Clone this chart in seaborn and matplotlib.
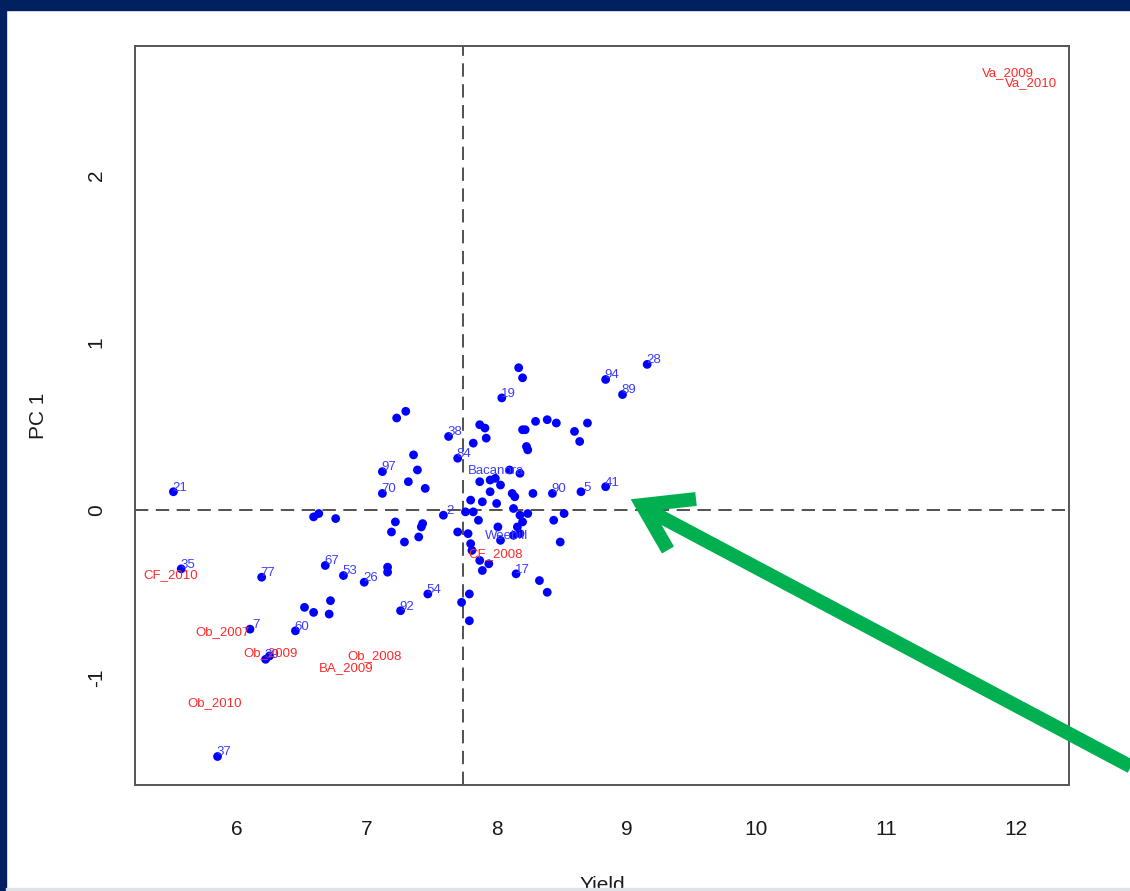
import matplotlib
matplotlib.use("Agg")
import matplotlib.pyplot as plt
import seaborn as sns
import pandas as pd
from matplotlib.patches import Rectangle
from matplotlib.lines import Line2D

# ---------------- data ----------------
yield_vals = [5.51, 5.57, 6.19, 6.10, 6.45, 6.22, 6.25, 5.85, 6.68, 6.82,
              6.98, 7.16, 7.16, 7.26, 7.47, 6.72, 6.52, 6.59, 6.71, 6.59,
              6.63, 6.76, 7.23, 7.30, 7.36, 7.39, 7.12, 7.32, 7.45, 7.12,
              7.22, 7.19, 7.29, 7.40, 7.43, 7.42, 7.59, 7.63, 7.70, 7.82,
              7.87, 7.91, 7.92, 8.17, 8.20, 8.04, 8.30, 8.39, 8.46, 8.20,
              8.22, 8.23, 8.24, 8.60, 8.64, 8.70, 8.84, 8.97, 9.16, 8.10,
              8.18, 7.87, 7.95, 7.99, 8.03, 7.95, 8.12, 8.14, 8.28, 8.43,
              8.65, 8.84, 7.80, 7.89, 8.00, 8.13, 8.18, 8.24, 8.44, 8.52,
              7.76, 7.82, 7.86, 8.20, 8.16, 8.01, 7.70, 7.78, 8.03, 8.13,
              8.18, 8.49, 7.80, 7.81, 7.87, 7.94, 7.89, 8.15, 8.33, 8.39,
              7.79, 7.73, 7.79]
pc1_vals = [0.11, -0.35, -0.40, -0.71, -0.72, -0.89, -0.87, -1.47, -0.33, -0.39,
            -0.43, -0.34, -0.37, -0.60, -0.50, -0.54, -0.58, -0.61, -0.62, -0.04,
            -0.02, -0.05, 0.55, 0.59, 0.33, 0.24, 0.23, 0.17, 0.13, 0.10,
            -0.07, -0.13, -0.19, -0.16, -0.08, -0.10, -0.03, 0.44, 0.31, 0.40,
            0.51, 0.49, 0.43, 0.85, 0.79, 0.67, 0.53, 0.54, 0.52, 0.48,
            0.48, 0.38, 0.36, 0.47, 0.41, 0.52, 0.78, 0.69, 0.87, 0.24,
            0.22, 0.17, 0.18, 0.19, 0.15, 0.11, 0.10, 0.08, 0.10, 0.10,
            0.11, 0.14, 0.06, 0.05, 0.04, 0.01, -0.03, -0.02, -0.06, -0.02,
            -0.01, -0.01, -0.06, -0.07, -0.10, -0.10, -0.13, -0.14, -0.18, -0.15,
            -0.14, -0.19, -0.20, -0.24, -0.30, -0.32, -0.36, -0.38, -0.42, -0.49,
            -0.50, -0.55, -0.66]

# genotype labels (blue) anchored at their points
geno_names = ["21", "35", "77", "7", "60", "39", "37", "67", "53", "26", "92",
              "54", "17", "97", "70", "38", "84", "2", "19", "94", "89", "28",
              "41", "5", "90", "Bacanora", "Weebill"]
geno_x = [5.51, 5.57, 6.19, 6.10, 6.45, 6.22, 5.85, 6.68, 6.82, 6.98, 7.26,
          7.47, 8.15, 7.12, 7.12, 7.63, 7.70, 7.59, 8.04, 8.84, 8.97, 9.16,
          8.84, 8.65, 8.43, 7.95, 8.03]
geno_y = [0.11, -0.35, -0.40, -0.71, -0.72, -0.89, -1.47, -0.33, -0.39, -0.43, -0.60,
          -0.50, -0.38, 0.23, 0.10, 0.44, 0.31, -0.03, 0.67, 0.78, 0.69, 0.87,
          0.14, 0.11, 0.10, 0.21, -0.18]

# environment labels (red)
env_names = ["CF_2010", "Ob_2007", "Ob_2009", "Ob_2008", "BA_2009", "Ob_2010",
             "CF_2008", "Va_2009", "Va_2010"]
env_x = [5.49, 5.89, 6.26, 7.06, 6.84, 5.83, 7.99, 11.94, 12.12]
env_y = [-0.39, -0.73, -0.85, -0.87, -0.94, -1.15, -0.26, 2.61, 2.55]

x_ticks = [6, 7, 8, 9, 10, 11, 12]
y_ticks = [-1, 0, 1, 2]
mean_yield = 7.74

# ---------------- figure ----------------
sns.set_style("white")
plt.rcParams["font.family"] = ["Liberation Sans", "DejaVu Sans"]
plt.rcParams["axes.unicode_minus"] = False

W, H = 1130, 891
fig = plt.figure(figsize=(W / 100, H / 100), dpi=100)
fig.patch.set_facecolor("white")
ax = fig.add_axes([135 / W, 1 - 785 / H, (1069 - 135) / W, (785 - 46) / H])

df = pd.DataFrame({"Yield": yield_vals, "PC1": pc1_vals})
sns.scatterplot(data=df, x="Yield", y="PC1", ax=ax, color="#0000ff",
                s=40, edgecolor="none", linewidth=0, zorder=3)

ax.axvline(mean_yield, color="#333333", lw=1.2, ls=(0, (8, 4.5)), zorder=2)
ax.axhline(0, color="#333333", lw=1.2, ls=(0, (8, 4.5)), zorder=2)

for n, x, y in zip(geno_names, geno_x, geno_y):
    ax.annotate(n, (x, y), xytext=(4.5, 3), textcoords="offset points",
                ha="center", va="center", fontsize=9.5, color="#3c3cff", zorder=4)
for n, x, y in zip(env_names, env_x, env_y):
    ax.text(x, y, n, ha="center", va="center", fontsize=9.5, color="#ff2a2a", zorder=4)

ax.set_xlim(5.214, 12.41)
ax.set_ylim(-1.64, 2.77)
ax.set_xticks(x_ticks)
ax.set_yticks(y_ticks)
ax.set_xticklabels([str(t) for t in x_ticks])
ax.set_yticklabels([str(t) for t in y_ticks], rotation=90, va="center")

for sp in ax.spines.values():
    sp.set_color("#555555")
    sp.set_linewidth(1.4)
ax.tick_params(axis="both", length=11, width=1.2, color="#555555",
               labelsize=15, labelcolor="#1a1a1a", direction="out")
ax.tick_params(axis="x", pad=14)
ax.tick_params(axis="y", pad=10)

ax.set_xlabel("Yield", fontsize=15, color="#1a1a1a")
ax.set_ylabel("PC 1", fontsize=15, color="#1a1a1a")
ax.xaxis.set_label_coords(0.5, -(876 - 785) / 739)
ax.xaxis.label.set_va("top")
ax.yaxis.set_label_coords(-(135 - 48) / 934, 0.5)
ax.yaxis.label.set_va("bottom")

# ---------------- slide frame ----------------
navy = "#002060"
fig.add_artist(Rectangle((0, 1 - 10 / H), 1, 10 / H, transform=fig.transFigure,
                         color=navy, zorder=10))
fig.add_artist(Rectangle((0, 0), 6 / W, 1, transform=fig.transFigure,
                         color=navy, zorder=10))
fig.add_artist(Rectangle((6 / W, 0), 1, 3 / H, transform=fig.transFigure,
                         color="#dfe3e8", zorder=10))

# ---------------- green arrow annotation ----------------
def fpt(px, py):
    return px / W, 1 - py / H

green = "#00b050"
sx, sy = zip(fpt(648, 510), fpt(1175, 790))
fig.add_artist(Line2D(sx, sy, transform=fig.transFigure, color=green, lw=10,
                      solid_capstyle="butt", zorder=11))
hx, hy = zip(fpt(696, 499), fpt(642, 505), fpt(668, 550))
fig.add_artist(Line2D(hx, hy, transform=fig.transFigure, color=green, lw=10,
                      solid_capstyle="butt", solid_joinstyle="miter", zorder=11))

fig.savefig("out.png", dpi=100)
